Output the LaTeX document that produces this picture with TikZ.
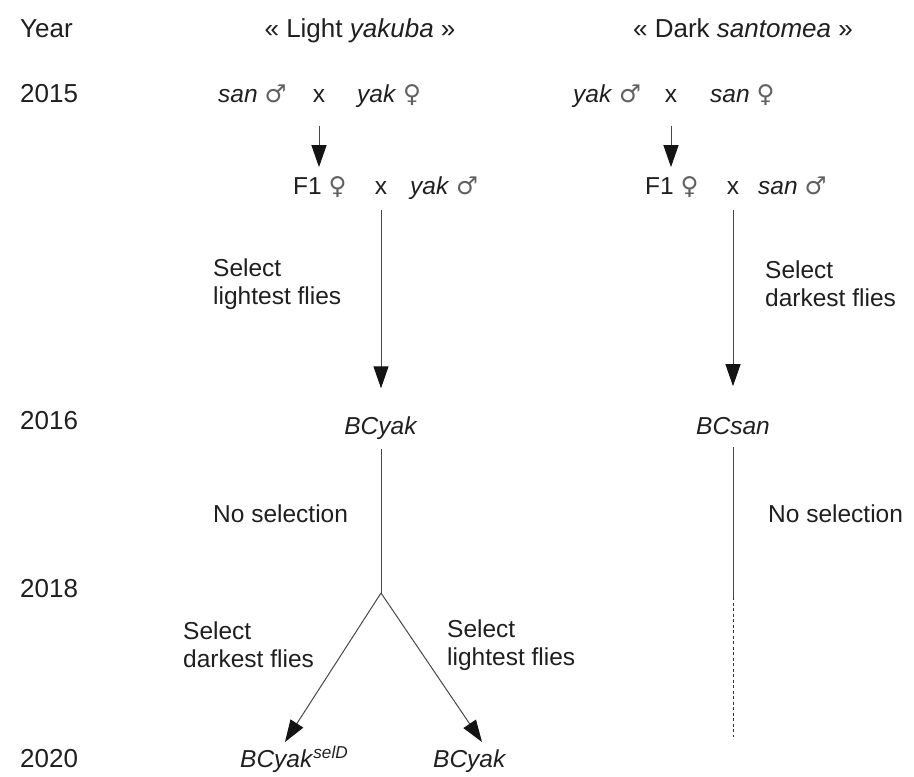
\documentclass[tikz,border=0pt]{standalone}
\usepackage{fontspec}
\setmainfont{Liberation Sans}
\newfontfamily\symfnt{DejaVu Sans}
\usetikzlibrary{arrows.meta,calc}
\newcommand\gmale{{\symfnt\color{black!62}♂}}
\newcommand\gfemale{{\symfnt\color{black!62}♀}}
\begin{document}
\begin{tikzpicture}[x=1pt,y=-1pt,
  txt/.style={font=\fontsize{24.5}{28}\selectfont, text=black!88, inner sep=0pt},
  big/.style={font=\fontsize{26}{30}\selectfont, text=black!88, inner sep=0pt},
  lab/.style={txt, align=left, anchor=west},
  yr/.style={big, anchor=mid west},
  arr/.style={draw=black!72, line width=1pt, -{Triangle[length=22pt,width=15pt,color=black!92]}},
  ln/.style={draw=black!72, line width=1pt},
  dl/.style={draw=black!80, line width=1pt, dash pattern=on 3pt off 2.5pt}
]
\useasboundingbox (0,0) rectangle (914,777);
% headers
\node[yr] (year) at (20,35) {Year};
\node[big, anchor=mid] (h1) at (360,35) {« Light \textit{yakuba} »};
\node[big, anchor=mid] (h2) at (743,35) {« Dark \textit{santomea} »};
% years
\node[yr] (y15) at (20,100) {2015};
\node[yr] (y16) at (20,427) {2016};
\node[yr] (y18) at (20,595) {2018};
\node[yr] (y20) at (20,765) {2020};
% 2015 crosses
\node[txt, anchor=mid west] (l1) at (218,100) {\textit{san} \gmale};
\node[txt, anchor=mid] (lx1) at (319,100) {x};
\node[txt, anchor=mid west] (l2) at (357,100) {\textit{yak} \gfemale};
\node[txt, anchor=mid west] (r1) at (573,100) {\textit{yak} \gmale};
\node[txt, anchor=mid] (rx1) at (671,100) {x};
\node[txt, anchor=mid west] (r2) at (710,100) {\textit{san} \gfemale};
% F1 row
\node[txt, anchor=mid west] (lf) at (293,192) {F1 \gfemale};
\node[txt, anchor=mid] (lx2) at (381,192) {x};
\node[txt, anchor=mid west] (lm) at (410,192) {\textit{yak} \gmale};
\node[txt, anchor=mid west] (rf) at (645,192) {F1 \gfemale};
\node[txt, anchor=mid] (rx2) at (733,192) {x};
\node[txt, anchor=mid west] (rm) at (758,192) {\textit{san} \gmale};
% short arrows
\draw[arr] ($(lx1.center)+(0,30)$) -- ($(lx1.center)+(0,71)$);
\draw[arr] ($(rx1.center)+(0,30)$) -- ($(rx1.center)+(0,71)$);
% 2016
\node[txt, anchor=mid] (bcy) at (381,432) {\textit{BCyak}};
\node[txt, anchor=mid] (bcs) at (733,432) {\textit{BCsan}};
\draw[arr] ($(lx2.center)+(0,22)$) -- ($(bcy.center)+(0,-40)$);
\draw[arr] ($(rx2.center)+(0,22)$) -- ($(bcs.center)+(0,-40)$);
\node[lab] (sl1) at (213,284) {Select\\lightest flies};
\node[lab] (sd1) at (765,284) {Select\\darkest flies};
% no selection
\coordinate (jn) at (381,593);
\coordinate (rj) at (733,597);
\coordinate (rend) at (733,737);
\draw[ln] ($(bcy.center)+(0,21)$) -- (jn);
\draw[ln] ($(bcs.center)+(0,21)$) -- (rj);
\draw[dl] (rj) -- (rend);
\node[txt, anchor=mid west] (ns1) at (213,520) {No selection};
\node[txt, anchor=mid west] (ns2) at (768,520) {No selection};
% 2020 branches
\coordinate (tl) at (285,742);
\coordinate (tr) at (482,742);
\draw[arr] (jn) -- (tl);
\draw[arr] (jn) -- (tr);
\node[lab] (sd2) at (183,645) {Select\\darkest flies};
\node[lab] (sl2) at (447,645) {Select\\lightest flies};
\node[txt, anchor=mid west] (bsel) at (240,765) {\textit{BCyak}\textsuperscript{\textit{selD}}};
\node[txt, anchor=mid west] (bcy2) at (433,765) {\textit{BCyak}};
\end{tikzpicture}
\end{document}
